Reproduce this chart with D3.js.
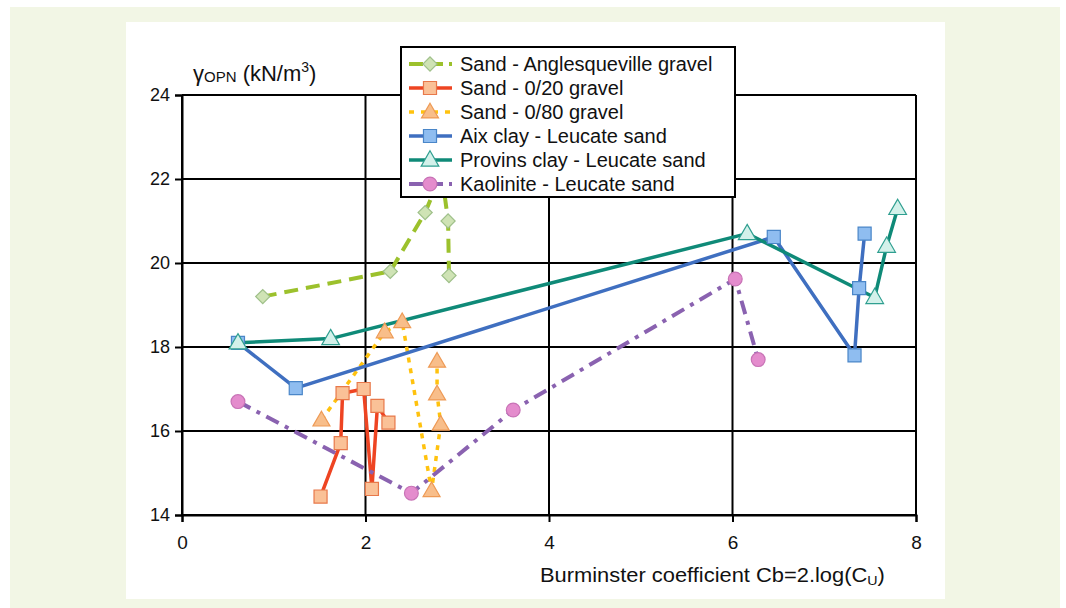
<!DOCTYPE html>
<html>
<head>
<meta charset="utf-8">
<script src="https://cdn.jsdelivr.net/npm/d3@7"></script>
<style>
  html, body { margin: 0; padding: 0; background: #ffffff; }
  svg { display: block; }
</style>
</head>
<body>
<svg id="chart" width="1066" height="608"></svg>
<script>
// Compaction data: optimum dry unit weight vs Burminster coefficient
const xTicks = [0, 2, 4, 6, 8];
const yTicks = [14, 16, 18, 20, 22, 24];

const seriesNames = [
  "Sand - Anglesqueville gravel",
  "Sand - 0/20 gravel",
  "Sand - 0/80 gravel",
  "Aix clay - Leucate sand",
  "Provins clay - Leucate sand",
  "Kaolinite - Leucate sand"
];

const anglesquevilleCb = [0.88, 2.27, 2.65, 2.83, 2.90, 2.91];
const anglesquevilleGamma = [19.2, 19.8, 21.2, 22.15, 21.0, 19.7];

const gravel020Cb = [1.51, 1.73, 1.75, 1.98, 2.07, 2.13, 2.25];
const gravel020Gamma = [14.44, 15.71, 16.9, 17.0, 14.62, 16.6, 16.2];

const gravel080Cb = [1.52, 2.21, 2.40, 2.72, 2.82, 2.78, 2.78];
const gravel080Gamma = [16.26, 18.36, 18.6, 14.58, 16.16, 16.88, 17.66];

const aixCb = [0.61, 1.24, 6.45, 7.33, 7.38, 7.44];
const aixGamma = [18.1, 17.02, 20.62, 17.8, 19.4, 20.7];

const provinsCb = [0.61, 1.62, 6.16, 7.55, 7.68, 7.80];
const provinsGamma = [18.1, 18.2, 20.7, 19.18, 20.4, 21.3];

const kaoliniteCb = [0.61, 2.50, 3.61, 6.03, 6.28];
const kaoliniteGamma = [16.7, 14.52, 16.5, 19.62, 17.7];

const zip = (xs, ys) => xs.map((x, i) => ({ x, y: ys[i] }));

// marker shapes: square rotated 45 degrees gives an even diamond
const markers = {
  diamond: { type: d3.symbolSquare, rotate: 45, dy: 0 },
  square: { type: d3.symbolSquare, rotate: 0, dy: 0 },
  triangle: { type: d3.symbolTriangle, rotate: 0, dy: 1 },
  circle: { type: d3.symbolCircle, rotate: 0, dy: 0 }
};

const series = [
  { name: seriesNames[0], pts: zip(anglesquevilleCb, anglesquevilleGamma),
    line: "#9cc12c", dash: "14,8", legendDash: "14,6", width: 4, marker: markers.diamond, size: 100,
    fill: "#cfe3b5", stroke: "#9fc08a" },
  { name: seriesNames[1], pts: zip(gravel020Cb, gravel020Gamma),
    line: "#ee4422", dash: null, legendDash: null, width: 3.5, marker: markers.square, size: 170,
    fill: "#fac197", stroke: "#e8784a" },
  { name: seriesNames[2], pts: zip(gravel080Cb, gravel080Gamma),
    line: "#ffc20e", dash: "5,6", legendDash: "5,7", width: 3.5, marker: markers.triangle, size: 125,
    fill: "#f8be8a", stroke: "#ee9a55" },
  { name: seriesNames[3], pts: zip(aixCb, aixGamma),
    line: "#3f6fc0", dash: null, legendDash: null, width: 3.5, marker: markers.square, size: 170,
    fill: "#8fbdf0", stroke: "#4a86c8" },
  { name: seriesNames[4], pts: zip(provinsCb, provinsGamma),
    line: "#0f8a78", dash: null, legendDash: null, width: 3.5, marker: markers.triangle, size: 135,
    fill: "#d3f1ea", stroke: "#2f9f90" },
  { name: seriesNames[5], pts: zip(kaoliniteCb, kaoliniteGamma),
    line: "#8a62b0", dash: "14,7,4,7", legendDash: "14,6", width: 4, marker: markers.circle, size: 150,
    fill: "#e48ccd", stroke: "#c873b6" }
];

const svg = d3.select("#chart");

// page backdrop and white panel
svg.append("rect").attr("x", 10).attr("y", 7).attr("width", 1050).attr("height", 601).attr("fill", "#f2f6e5");
svg.append("rect").attr("x", 126).attr("y", 22).attr("width", 819).attr("height", 577).attr("fill", "#ffffff");

const plot = { left: 182, right: 916, top: 95, bottom: 515 };
const x = d3.scaleLinear().domain([0, 8]).range([plot.left, plot.right]);
const y = d3.scaleLinear().domain([14, 24]).range([plot.bottom, plot.top]);

// grid lines (black, at every major tick)
const grid = svg.append("g");
grid.selectAll(".gx").data(xTicks).join("line")
  .attr("x1", d => x(d)).attr("x2", d => x(d))
  .attr("y1", plot.top).attr("y2", plot.bottom)
  .attr("stroke", "#000").attr("stroke-width", 2);
grid.selectAll(".gy").data(yTicks).join("line")
  .attr("x1", plot.left).attr("x2", plot.right)
  .attr("y1", d => y(d)).attr("y2", d => y(d))
  .attr("stroke", "#000").attr("stroke-width", 2);

// axes
const xAxis = svg.append("g").attr("transform", `translate(0,${plot.bottom})`)
  .call(d3.axisBottom(x).tickValues(xTicks).tickFormat(d3.format("d")).tickSizeOuter(0).tickSize(7).tickPadding(14));
const yAxis = svg.append("g").attr("transform", `translate(${plot.left},0)`)
  .call(d3.axisLeft(y).tickValues(yTicks).tickFormat(d3.format("d")).tickSizeOuter(0).tickSize(7).tickPadding(5));
[xAxis, yAxis].forEach(a => {
  a.select(".domain").attr("stroke", "#000").attr("stroke-width", 2);
  a.selectAll(".tick line").attr("stroke", "#000").attr("stroke-width", 2);
});
xAxis.selectAll(".tick text")
  .attr("font-family", "'Liberation Sans Narrow', 'Arial Narrow', Arial, sans-serif")
  .attr("font-size", 19).attr("fill", "#111");
yAxis.selectAll(".tick text")
  .attr("font-family", "'Liberation Sans', Arial, sans-serif")
  .attr("font-size", 18).attr("fill", "#111");

// series lines and markers
const lineGen = d3.line().x(d => x(d.x)).y(d => y(d.y));
const dataLayer = svg.append("g");
series.forEach(s => {
  dataLayer.append("path")
    .attr("d", lineGen(s.pts))
    .attr("fill", "none")
    .attr("stroke", s.line)
    .attr("stroke-width", s.width)
    .attr("stroke-dasharray", s.dash)
    .attr("stroke-linejoin", "round");
});
series.forEach(s => {
  const sym = d3.symbol().type(s.marker.type).size(s.size);
  dataLayer.selectAll(null).data(s.pts).join("path")
    .attr("d", sym)
    .attr("transform", d => `translate(${x(d.x)},${y(d.y) + s.marker.dy}) rotate(${s.marker.rotate})`)
    .attr("fill", s.fill)
    .attr("stroke", s.stroke)
    .attr("stroke-width", 1.2);
});

// axis titles
const yTitle = svg.append("text")
  .attr("x", 193).attr("y", 81)
  .attr("font-family", "'Liberation Sans', Arial, sans-serif")
  .attr("font-size", 22).attr("fill", "#111");
yTitle.append("tspan").text("γ");
yTitle.append("tspan").attr("font-size", 15).attr("dy", 1).text("OPN");
yTitle.append("tspan").attr("dy", -1).text(" (kN/m");
yTitle.append("tspan").attr("font-size", 14).attr("dy", -9).text("3");
yTitle.append("tspan").attr("dy", 9).text(")");

const xTitle = svg.append("text")
  .attr("x", 540).attr("y", 582)
  .attr("font-family", "'Liberation Sans Narrow', 'Arial Narrow', Arial, sans-serif")
  .attr("font-size", 20).attr("fill", "#111");
xTitle.append("tspan").text("Burminster coefficient Cb=2.log(C");
xTitle.append("tspan").attr("font-size", 13).attr("dy", 3).text("U");
xTitle.append("tspan").attr("dy", -3).text(")");
// stretch to the width of the printed title
const xtw = xTitle.node().getComputedTextLength();
if (xtw > 0) {
  xTitle.attr("transform", `translate(540,0) scale(${345 / xtw},1) translate(-540,0)`);
}

// legend, drawn over the data
const legend = svg.append("g");
legend.append("rect")
  .attr("x", 401).attr("y", 47).attr("width", 334).attr("height", 150)
  .attr("fill", "#fff").attr("stroke", "#000").attr("stroke-width", 2);
series.forEach((s, i) => {
  const cy = 64 + i * 24;
  legend.append("line")
    .attr("x1", 409).attr("x2", 452).attr("y1", cy).attr("y2", cy)
    .attr("stroke", s.line).attr("stroke-width", s.width)
    .attr("stroke-dasharray", s.legendDash);
  legend.append("path")
    .attr("d", d3.symbol().type(s.marker.type).size(s.size)())
    .attr("transform", `translate(430,${cy + s.marker.dy}) rotate(${s.marker.rotate})`)
    .attr("fill", s.fill).attr("stroke", s.stroke).attr("stroke-width", 1.2);
  legend.append("text")
    .attr("x", 460).attr("y", cy + 7)
    .attr("font-family", "'Liberation Sans', Arial, sans-serif")
    .attr("font-size", 20).attr("fill", "#111")
    .text(s.name);
});
</script>
</body>
</html>
